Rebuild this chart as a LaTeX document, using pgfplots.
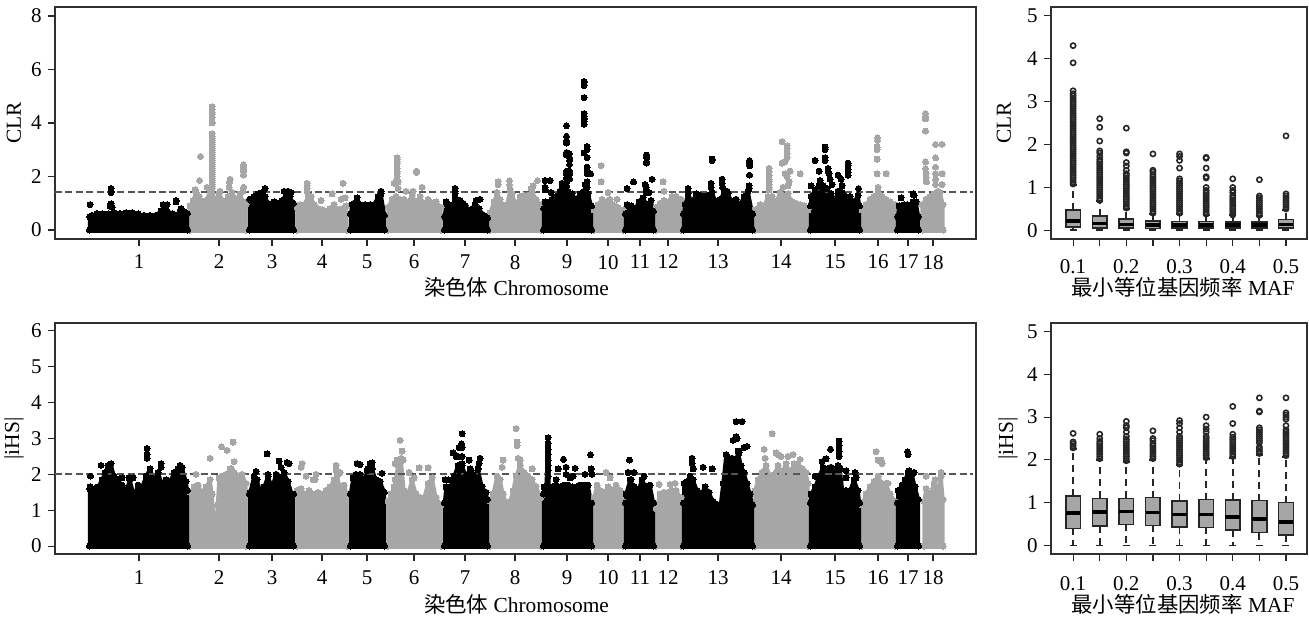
\documentclass[border=0pt]{standalone}
\usepackage{pgfplots}
\pgfplotsset{compat=1.18}
\usepgfplotslibrary{statistics}
\usepackage{fontspec}
\setmainfont{Liberation Serif}
\newfontfamily\cjk{Noto Sans CJK SC}
\definecolor{gr}{HTML}{A6A6A6}
\definecolor{frm}{HTML}{303030}
\definecolor{dashc}{HTML}{555555}
\newcommand{\G}[3]{\addplot[draw=gr,fill=gr,line width=1.7pt,line join=round,mark=*,mark size=1.5pt,mark options={fill=gr,draw=gr,line width=0pt,solid}] coordinates {#3};\addplot[draw=gr,line width=2.8pt,line cap=round] coordinates {(#1,0)(#2,0)};}
\newcommand{\K}[3]{\addplot[draw=black,fill=black,line width=1.7pt,line join=round,mark=*,mark size=1.5pt,mark options={fill=black,draw=black,line width=0pt,solid}] coordinates {#3};\addplot[draw=black,line width=2.8pt,line cap=round] coordinates {(#1,0)(#2,0)};}
\newcommand{\GO}[1]{\addplot[only marks,mark=*,mark size=1.5pt,mark options={fill=gr,draw=gr,line width=0pt}] coordinates {#1};}
\newcommand{\KO}[1]{\addplot[only marks,mark=*,mark size=1.5pt,mark options={fill=black,draw=black,line width=0pt}] coordinates {#1};}
\newcommand{\BX}[6]{\addplot[boxplot prepared={draw position=#1,lower whisker=#2,lower quartile=#3,median=#4,upper quartile=#5,upper whisker=#6}] coordinates {};}
\newcommand{\OUT}[1]{\addplot[only marks,mark=o,mark size=1.3pt,mark options={draw=black!85,line width=0.8pt}] coordinates {#1};}
\pgfplotsset{
 base/.style={
  scale only axis,anchor=south west,
  axis line style={draw=frm,line width=0.8pt},
  tick pos=left,tick align=outside,major tick length=3.5pt,
  every tick/.style={draw=black!85,line width=0.6pt},
  tick label style={font=\fontsize{10.5}{12}\selectfont},
  label style={font=\fontsize{10.7}{12}\selectfont},
  /pgf/number format/assume math mode=true,
  clip=false,
  y tick label style={xshift=0.3pt},
 },
 man/.style={base,width=460.5pt,height=116pt,xmin=55,xmax=976,
  xtick={139,219,272,322,367,414,465,515,567,608,640,668,718,781,835,878,908,933},
  xticklabels={1,2,3,4,5,6,7,8,9,10,11,12,13,14,15,16,17,18},
  x tick label style={yshift=-1pt},
  xlabel={{\cjk 染色体} Chromosome},
  xlabel style={at={(axis description cs:0.5,0)},anchor=center,yshift=-24pt,xshift=0.5pt},
  ylabel style={at={(axis description cs:0,0.5)},anchor=center},
 },
 bx/.style={base,width=128pt,height=116pt,xmin=0.17,xmax=9.79,ymin=-0.2,ymax=5.2,
  xtick={1,2,3,4,5,6,7,8,9},xticklabels={0.1,,0.2,,0.3,,0.4,,0.5},
  ytick={0,1,2,3,4,5},
  x tick label style={yshift=-3pt},
  xlabel={{\cjk 最小等位基因频率} MAF},
  xlabel style={at={(axis description cs:0.5,0)},anchor=center,yshift=-24pt,xshift=2pt},
  ylabel style={at={(axis description cs:0,0.5)},anchor=center},
  boxplot/draw direction=y,
  boxplot/box extend=0.55,
  boxplot/whisker extend=0.27,
  boxplot/every box/.style={fill=gr,draw=black!85,line width=0.8pt},
  boxplot/every median/.style={draw=black,line width=1.8pt},
  boxplot/every whisker/.style={draw=black!85,line width=0.9pt,dash pattern=on 3.5pt off 2.5pt},
 },
}
\begin{document}
\begin{tikzpicture}
\useasboundingbox (0,0) rectangle (654.5pt,310pt);
% ---------- CLR Manhattan ----------
\begin{axis}[man,at={(27.5pt,190.5pt)},ymin=-0.336,ymax=8.336,ytick={0,2,4,6,8},ylabel={CLR},ylabel style={yshift=20.5pt}]
\G{190}{246}{(190,0)(190,.9)(193,1.1)(196,1.4)(199,1.25)(202,1.05)(206,1.1)(210,1.45)(212,1.35)(216,1.15)(219,1.35)(224,1.05)(228,1.25)(232,1.4)(236,1.15)(240,1.35)(243,1.05)(246,.95)(246,0)(190,0)}
\G{297}{347}{(297,0)(297,.85)(300,.95)(304,.95)(308,1.25)(311,1.25)(314,.95)(318,.8)(322,.75)(326,.7)(330,.8)(334,.95)(338,.75)(342,.8)(346,.9)(347,0)(297,0)}
\G{388}{441}{(388,0)(388,.85)(392,1.15)(396,1.25)(400,1.15)(404,1.15)(408,1.05)(412,1.3)(416,1.05)(420,1.25)(424,1)(428,1.15)(432,1)(436,1.05)(441,.85)(441,0)(388,0)}
\G{490}{541}{(490,0)(490,.65)(494,1.05)(497,1.4)(500,1.15)(504,.9)(507,.95)(510,1.5)(512,1.35)(516,.95)(520,1.25)(524,1.3)(528,1.3)(532,1.45)(536,1.15)(541,.95)(541,0)(490,0)}
\G{594}{623}{(594,0)(594,.75)(598,.95)(602,1.15)(606,1.05)(610,1.15)(614,.9)(618,.85)(623,.75)(623,0)(594,0)}
\G{656}{681}{(656,0)(656,.85)(660,1)(664,1.1)(668,1.05)(672,1.25)(676,1.25)(681,1.15)(681,0)(656,0)}
\G{755}{808}{(755,0)(755,.75)(760,.95)(764,.9)(768,1.25)(772,1.25)(776,1.05)(780,1.4)(784,1.25)(788,1.35)(792,1.05)(796,1)(800,.95)(804,.9)(808,.75)(808,0)(755,0)}
\G{862}{895}{(862,0)(862,.75)(866,.95)(870,1.15)(874,1.25)(878,1.4)(882,1.25)(886,1.15)(890,1.05)(895,.95)(895,0)(862,0)}
\G{922}{943}{(922,0)(922,.95)(926,1.15)(930,1.25)(934,1.35)(938,1.45)(940,1.4)(943,.95)(943,0)(922,0)}
\GO{(212,1.55)(212,1.62)(212,1.7)(212,1.78)(212,1.85)(212,1.92)(212,2)(212,2.08)(212,2.15)(212,2.22)(212,2.3)(212,2.38)(212,2.45)(212,2.52)(212,2.6)(212,2.68)(212,2.75)(212,2.82)(212,2.9)(212,2.98)(212,3.05)(212,3.12)(212,3.2)(212,3.28)(212,3.35)(212,3.42)(212,3.5)(212,3.6)(212,4)(212,4.2)(212,4.3)(212,4.4)(212,4.5)(212,4.6)
(200.5,2.75)(199.5,1.85)(195,1.5)(207,1.6)(230,1.9)(229.5,1.8)(229,1.6)(243.5,2.45)(243.5,2.38)(243.5,2.3)(243.5,2.2)(243.5,2.05)(243.5,1.6)(243,1.45)(220,1.45)
(307,1.75)(307,1.65)(307,1.55)(307,1.45)(321,1.1)(332,1.35)(343,1.75)(341,1.15)(345,1.2)(310,1.2)
(397,2.7)(397,2.62)(397,2.55)(397,2.48)(397,2.3)(397,2.2)(397,2.1)(397,2)(396,1.8)(394,1.75)(398,1.8)(398,1.55)(406,1.45)(413,1.45)(416.5,2.2)(416.5,2.15)(422,1.6)
(498,1.8)(498,1.7)(509.5,1.85)(509.5,1.7)(531,1.55)(537.5,1.85)(533,1.65)
(601,2.4)(601,1.8)(608,1.4)(617,1.15)(663,1.8)(664,1.45)
(769,2.3)(769,2.2)(769,2.05)(769,1.9)(769,1.8)(769,1.7)(769,1.6)(769,1.5)(782,3.3)(787,3.15)(787,3.05)(787,2.85)(787,2.7)(782,2.5)(785,2.55)(785,2.1)(790,2.2)(787,2)(789,1.8)(788,1.65)(783,1.6)(800,2.1)
(877.5,3.45)(877.5,3.35)(877,3.1)(877,3)(877,2.65)(877,2.1)(878,1.6)(886,2.1)
(925.5,4.35)(925.5,4.25)(925.5,4.15)(925.5,3.7)(925.5,2.55)(925.5,2.3)(926,2.1)(926,1.95)(926.5,1.8)(935.5,3.2)(935.5,2.7)(935.5,2.35)(935.5,2.1)(935.5,1.9)(935.5,1.7)(942,3.2)(942,2.1)(942,1.7)}
\K{89.5}{187.5}{(89.5,0)(89.5,.5)(92,.55)(97,.62)(102,.6)(108,.6)(114,.65)(120,.62)(126,.65)(132,.65)(138,.6)(144,.55)(150,.55)(156,.55)(161,.72)(166,.78)(172,.6)(176,.55)(180,.68)(184,.68)(187.5,.62)(187.5,0)(89.5,0)}
\K{249.5}{293.5}{(249.5,0)(249.5,1.15)(254,1.25)(258,1.35)(262,1.4)(265,1.25)(268,1)(274,1.05)(278,1)(282,1.1)(286,1.35)(290,1.25)(293.5,1)(293.5,0)(249.5,0)}
\K{350.5}{384.5}{(350.5,0)(350.5,.6)(352,.95)(354,1)(357,1.2)(360,.95)(365,.95)(370,.95)(374,.95)(378,1.25)(381,1.35)(384.5,.55)(384.5,0)(350.5,0)}
\K{444.5}{487.5}{(444.5,0)(444.5,.5)(446,1.05)(449,.95)(452,.9)(455,1.2)(458,.85)(461,.95)(465,.9)(470,.75)(475,.95)(479,.8)(484,.55)(487.5,.45)(487.5,0)(444.5,0)}
\K{543.5}{591.5}{(543.5,0)(543.5,.8)(545,1.05)(549,1.05)(552,1.15)(556,1.25)(560,1.45)(564,1.4)(568,1.45)(572,1.35)(576,1.15)(580,1.35)(584,1.45)(588,1.35)(591.5,.9)(591.5,0)(543.5,0)}
\K{625.5}{653.5}{(625.5,0)(625.5,.6)(627,.95)(631,.9)(635,.8)(639,1.05)(643,1.2)(647,.95)(651,1.1)(653.5,.7)(653.5,0)(625.5,0)}
\K{683.5}{752.5}{(683.5,0)(683.5,.6)(685,.95)(688,1.35)(692,1.05)(696,1.35)(700,1.3)(704,1.25)(708,1.3)(712,1.4)(716,1.05)(720,1.15)(724,1.4)(728,1.35)(732,1.05)(736,1.15)(740,.95)(744,1.25)(748,1.45)(752.5,.6)(752.5,0)(683.5,0)}
\K{810.5}{859.5}{(810.5,0)(810.5,.9)(811,1.25)(815,1.5)(819,1.35)(823,1.65)(827,1.55)(831,1.35)(834,1.05)(838,1.45)(842,1.4)(846,1.25)(850,1.25)(854,1.05)(858,1.3)(859.5,.9)(859.5,0)(810.5,0)}
\K{897.5}{918.5}{(897.5,0)(897.5,.5)(899,.9)(901,.75)(904,.95)(907,.95)(910,.9)(913,1.05)(916,1.05)(918.5,.5)(918.5,0)(897.5,0)}
\KO{(90,.95)(111,1.55)(111,1.45)(111,1.4)(111,.98)(110,.9)(112,.85)(176,1.1)(176,1.05)(181,.8)(163,.95)(167,.95)
(265,1.55)(284,1.45)(288,1.45)(291,1.4)(381,1.45)(455,1.55)(455,1.45)(455,1.35)(476,1.1)(480,1.15)(460,1.1)(463,1)
(545,1.5)(545,1.6)(545,1.85)(550,1.85)(551,1.4)(562,1.75)(562,1.6)(566.5,3.9)(566.5,3.5)(566.5,3.35)(566.5,3.25)(566.5,2.9)(566.5,2.8)(566.5,2.2)(566.5,2.1)(566.5,1.95)(566.5,1.8)(566.5,1.65)(569.5,2.85)(569.5,2.7)(569.5,2.6)(569.5,2.45)(569.5,2.2)(569.5,2.1)(569.5,1.9)
(584,5.55)(584,5.5)(584,5.4)(584,4.95)(584,4.35)(584,4.25)(584,4.15)(584,4.05)(584,3.95)(587,3.12)(587,3)(584,2.88)(587,2.7)(587,2.35)(587,2.2)(587,2.1)(590.5,2.1)(587,1.8)(585,1.7)(587,1.6)
(627,1.55)(633.5,1.8)(645,1.7)(646,1.6)(649,1.4)(646.5,2.8)(646.5,2.7)(646.5,2.55)(646.5,2.5)(652,1.9)(646,1.4)
(712,2.65)(712,2.6)(711,1.75)(711,1.6)(722,1.9)(722,1.75)(722.5,1.6)(727,1.45)(749.5,2.6)(749.5,2.5)(749.5,2.4)(749.5,2.05)(749,1.65)(749,1.55)(688,1.55)
(815,2.6)(811,1.65)(819,1.65)(819,2.2)(820,1.85)(825,3.1)(825,3)(825,2.7)(825,2.6)(828,2.3)(828,2.2)(829,2.1)(830,1.9)(832,1.7)(838,2.05)(841,1.9)(848,2.5)(848,2.4)(848,2.25)(848,2.15)(848,2.05)(842,1.65)(858.5,1.55)
(901,1.2)(913,1.35)(914,1.3)}
\addplot[draw=dashc,line width=0.8pt,dash pattern=on 3.5pt off 1.7pt] coordinates {(55,1.42)(973,1.42)};
\end{axis}
% ---------- CLR box ----------
\begin{axis}[bx,at={(525.5pt,190.5pt)},ylabel={CLR},ylabel style={yshift=23.5pt}]
\BX{1}{0}{.08}{.22}{.48}{1.05}
\BX{2}{0}{.06}{.16}{.33}{.68}
\BX{3}{0}{.05}{.14}{.26}{.5}
\BX{4}{0}{.04}{.13}{.22}{.38}
\BX{5}{0}{.05}{.13}{.21}{.38}
\BX{6}{0}{.05}{.13}{.21}{.36}
\BX{7}{0}{.05}{.12}{.19}{.35}
\BX{8}{0}{.05}{.12}{.19}{.33}
\BX{9}{0}{.06}{.14}{.25}{.47}
\OUT{(1,1.08)(1,1.13)(1,1.18)(1,1.23)(1,1.28)(1,1.33)(1,1.38)(1,1.43)(1,1.48)(1,1.53)(1,1.58)(1,1.63)(1,1.68)(1,1.73)(1,1.78)(1,1.83)(1,1.88)(1,1.93)(1,1.98)(1,2.03)(1,2.08)(1,2.13)(1,2.18)(1,2.23)(1,2.28)(1,2.33)(1,2.38)(1,2.43)(1,2.48)(1,2.53)(1,2.58)(1,2.63)(1,2.68)(1,2.73)(1,2.78)(1,2.83)(1,2.88)(1,2.93)(1,2.98)(1,3.03)(1,3.08)(1,3.13)(1,3.18)(1,3.25)(1,3.9)(1,4.3)
(2,.7)(2,.75)(2,.8)(2,.85)(2,.9)(2,.95)(2,1)(2,1.05)(2,1.1)(2,1.15)(2,1.2)(2,1.25)(2,1.3)(2,1.35)(2,1.4)(2,1.45)(2,1.5)(2,1.55)(2,1.6)(2,1.65)(2,1.72)(2,1.8)(2,1.85)(2,2.08)(2,2.4)(2,2.6)
(3,.52)(3,.57)(3,.62)(3,.67)(3,.72)(3,.77)(3,.82)(3,.87)(3,.92)(3,.97)(3,1.02)(3,1.07)(3,1.12)(3,1.17)(3,1.22)(3,1.27)(3,1.32)(3,1.4)(3,1.5)(3,1.58)(3,1.8)(3,1.83)(3,2.38)
(4,.4)(4,.45)(4,.5)(4,.55)(4,.6)(4,.65)(4,.7)(4,.75)(4,.8)(4,.85)(4,.9)(4,.95)(4,1)(4,1.05)(4,1.1)(4,1.15)(4,1.2)(4,1.25)(4,1.3)(4,1.36)(4,1.4)(4,1.78)
(5,.4)(5,.45)(5,.5)(5,.55)(5,.6)(5,.65)(5,.7)(5,.75)(5,.8)(5,.85)(5,.9)(5,.95)(5,1)(5,1.05)(5,1.1)(5,1.15)(5,1.2)(5,1.45)(5,1.63)(5,1.72)(5,1.78)
(6,.38)(6,.43)(6,.48)(6,.53)(6,.58)(6,.63)(6,.68)(6,.73)(6,.78)(6,.83)(6,.88)(6,.93)(6,1)(6,1.22)(6,1.25)(6,1.45)(6,1.68)(6,1.7)
(7,.36)(7,.41)(7,.46)(7,.51)(7,.56)(7,.61)(7,.66)(7,.71)(7,.76)(7,.81)(7,.88)(7,.93)(7,1)(7,1.2)
(8,.35)(8,.4)(8,.45)(8,.5)(8,.55)(8,.6)(8,.65)(8,.7)(8,.75)(8,.8)(8,1.18)
(9,.5)(9,.55)(9,.6)(9,.65)(9,.7)(9,.75)(9,.8)(9,.85)(9,2.2)}
\end{axis}
% ---------- iHS Manhattan ----------
\begin{axis}[man,at={(27.5pt,33pt)},height=115.5pt,ymin=-0.22,ymax=6.22,ytick={0,1,2,3,4,5,6},ylabel={|iHS|},ylabel style={yshift=20.5pt},xlabel style={yshift=-1pt},x tick label style={yshift=-0.2pt}]
\G{190}{246}{(190,0)(190,1.5)(194,1.65)(198,1.7)(202,1.5)(206,1.65)(210,1.85)(212,1.45)(214,.7)(216,.6)(217.5,1.15)(219,1.9)(222,1.95)(226,2)(230,2.15)(234,2.05)(238,1.95)(242,2)(246,1.75)(246,0)(190,0)}
\G{297}{347}{(297,0)(297,1.55)(301,1.6)(305,1.45)(309,1.55)(313,1.45)(318,1.5)(322,1.45)(326,1.55)(330,1.65)(334,1.85)(337,1.95)(340,1.65)(344,1.7)(347,1.45)(347,0)(297,0)}
\G{388}{441}{(388,0)(388,1.25)(391,1.45)(394,1.65)(398,2.25)(401,2.45)(404,1.55)(408,1.45)(412,1.85)(416,1.45)(420,1.35)(424,1.35)(428,1.75)(432,1.9)(436,1.35)(441,1.15)(441,0)(388,0)}
\G{490}{541}{(490,0)(490,1.25)(493,1.45)(497,1.95)(500,1.85)(503,1.45)(507,1.15)(510,1.25)(513,1.55)(516,1.95)(520,2.25)(524,2.05)(528,1.95)(532,1.85)(536,1.65)(541,1.35)(541,0)(490,0)}
\G{594}{623}{(594,0)(594,1.35)(597,1.7)(600,1.55)(604,1.5)(608,1.65)(612,1.55)(616,1.7)(620,1.55)(623,1.25)(623,0)(594,0)}
\G{656}{681}{(656,0)(656,1.05)(660,1.45)(664,1.5)(668,1.5)(672,1.55)(676,1.55)(681,1.35)(681,0)(656,0)}
\G{755}{808}{(755,0)(755,1.55)(758,1.85)(762,2.05)(766,2.25)(770,1.95)(774,2)(778,2.25)(782,2.05)(786,2.3)(790,2.05)(794,2.3)(798,2.25)(802,2.15)(806,2.05)(808,1.75)(808,0)(755,0)}
\G{862}{895}{(862,0)(862,1.15)(866,1.45)(870,1.65)(874,1.8)(878,1.95)(882,1.75)(886,1.75)(890,1.45)(895,1.25)(895,0)(862,0)}
\G{924}{943}{(924,0)(924,1.25)(926,1.6)(930,1.45)(934,1.75)(938,1.55)(941,1.95)(943,1.3)(943,0)(924,0)}
\GO{(196,2)(210,2.45)(221.5,2.77)(227,2.67)(233,2.9)(234,2.35)(231,2.15)
(302,2.3)(301,2.2)(306,1.95)(316,2)(315,1.85)(313,1.85)(336,2.25)(336,2.1)(340,2.05)
(400,2.95)(402,2.65)(397,2.4)(395,2.3)(403,2.4)(409,2.05)(419,2.18)(428,2.18)(414,1.9)(395,1.85)
(516,3.27)(517,2.9)(517,2.8)(518,2.45)(520,2.4)(524,2.05)(532,2.15)(503,2.4)(502,2.2)
(606,2.05)(610,1.9)(659,1.72)(670,1.72)(675,1.75)
(764,2.7)(772,3.13)(765,2.45)(776,2.6)(778,2.55)(781,2.5)(788,2.5)(793,2.55)(800,2.42)
(876,2.63)(878,2.4)(881,2.4)(882,2.3)(888,1.75)(926,1.95)(941,2.05)(935,1.85)}
\K{89.5}{187.5}{(89.5,0)(89.5,1.6)(90,1.65)(94,1.6)(98,1.65)(102,1.85)(105,2.05)(108,2.25)(111,2.3)(114,1.95)(118,1.85)(122,1.7)(126,1.55)(130,1.85)(134,1.4)(138,1.7)(142,1.65)(146,1.95)(150,2.15)(154,1.85)(158,2.05)(162,1.75)(166,1.85)(170,1.8)(174,2.05)(178,2.15)(182,2.2)(186,1.8)(187.5,1.55)(187.5,0)(89.5,0)}
\K{249.5}{293.5}{(249.5,0)(249.5,1.45)(250,1.5)(254,1.95)(257,1.85)(260,1.55)(264,1.65)(268,1.95)(272,1.65)(276,2)(280,1.9)(284,2.05)(288,1.8)(292,1.45)(293.5,1.45)(293.5,0)(249.5,0)}
\K{350.5}{384.5}{(350.5,0)(350.5,1.45)(353,1.9)(356,1.95)(360,2)(364,1.85)(368,2.15)(372,2.15)(376,1.85)(380,1.8)(384.5,1.5)(384.5,0)(350.5,0)}
\K{444.5}{487.5}{(444.5,0)(444.5,1.2)(446,1.65)(450,1.65)(454,1.95)(458,2.25)(462,2.25)(466,1.95)(470,2.15)(474,1.95)(478,2.15)(482,1.65)(486,1.5)(487.5,1.3)(487.5,0)(444.5,0)}
\K{543.5}{591.5}{(543.5,0)(543.5,1.45)(544,1.65)(546,1.65)(548,2.85)(549,1.65)(552,1.65)(556,1.7)(560,1.65)(564,1.7)(568,1.7)(572,1.65)(576,1.65)(580,1.7)(584,1.7)(588,1.7)(591.5,1.2)(591.5,0)(543.5,0)}
\K{625.5}{653.5}{(625.5,0)(625.5,1.2)(626,1.45)(630,1.85)(634,1.65)(638,1.55)(642,1.85)(646,1.65)(650,1.7)(653.5,1.2)(653.5,0)(625.5,0)}
\K{683.5}{752.5}{(683.5,0)(683.5,1.2)(684,1.75)(687,1.8)(690,1.95)(693,1.85)(697,1.55)(701,1.45)(705,1.65)(709,1.5)(713,1.25)(717,1.15)(720,1.05)(723,1.75)(726,2.55)(729,2.45)(732,2.45)(735,2.25)(738,2.65)(741,2.25)(744,2.05)(747,1.75)(750,1.45)(752.5,1.15)(752.5,0)(683.5,0)}
\K{810.5}{859.5}{(810.5,0)(810.5,1.2)(811,1.45)(815,1.65)(819,1.95)(823,2.2)(827,2.15)(831,2.2)(835,2.15)(838,2.25)(840,2.15)(843,1.45)(846,1.55)(850,1.55)(854,1.85)(858,1.55)(859.5,1.2)(859.5,0)(810.5,0)}
\K{897.5}{918.5}{(897.5,0)(897.5,1.2)(898,1.55)(902,1.7)(905,1.85)(908,2.05)(912,2)(915,1.65)(918.5,1.3)(918.5,0)(897.5,0)}
\KO{(90.5,1.95)(101,2.25)(147,2.72)(147,2.55)(147,2.45)(161,2.3)(161,2.2)(150,2.15)(180,2.25)(122,1.9)(129,1.9)(133,1.9)
(256,2.08)(267,2.57)(279,2.37)(281,2.2)(287,2.33)(289,2.3)(284,2.05)(268,2)
(357,2.3)(360,2.27)(370,2.3)(372,2.32)(367,2.1)(356,2)(382,2.03)
(445,1.85)(448,1.85)(453,2.6)(456,2.5)(458,2.5)(462,3.13)(461.5,2.85)(462,2.75)(459,2.75)(462,2.5)(462,2.3)(469,2.4)(480,2.45)(479,2.3)(471,2.1)
(548,3.02)(548,2.85)(548,2.7)(548,2.55)(548,2.4)(548,2.25)(548,2.1)(548,1.95)(558,2.15)(563.5,2.42)(566,2.2)(575,2.17)(573,1.95)(590.5,2.55)(591,2.15)(592,2)(585,2)(566,2)(556,1.85)(570,1.9)
(629.5,2.4)(628,2.05)(634,2.05)(644,1.95)(631,1.85)
(692,2.45)(692,2.3)(693,2.15)(703,2.2)(712,2.15)(736,3.47)(742,3.47)(736,3.05)(737,3)(733,2.95)(744,2.75)(747,2.78)(739,2.6)
(815,1.95)(822,2.35)(826,2.43)(830.5,2.7)(839,2.93)(839,2.8)(839,2.65)(839,2.5)(846,2.1)(846,1.9)(855,2.05)(856,1.9)
(907.5,2.63)(908,2.55)(909,2.1)(914,2.05)}
\addplot[draw=dashc,line width=0.8pt,dash pattern=on 3.5pt off 1.7pt] coordinates {(55,2.01)(973,2.01)};
\end{axis}
% ---------- iHS box ----------
\begin{axis}[bx,at={(525.5pt,33pt)},height=115.5pt,ylabel={|iHS|},ylabel style={yshift=21.5pt},xlabel style={yshift=-1pt},x tick label style={yshift=-1pt}]
\BX{1}{0}{.4}{.76}{1.16}{2.25}
\BX{2}{0}{.46}{.78}{1.1}{2}
\BX{3}{0}{.49}{.79}{1.1}{1.95}
\BX{4}{0}{.47}{.77}{1.12}{2}
\BX{5}{0}{.43}{.72}{1.04}{1.88}
\BX{6}{0}{.42}{.72}{1.07}{2.03}
\BX{7}{0}{.36}{.67}{1.06}{2.05}
\BX{8}{0}{.3}{.62}{1.05}{2.12}
\BX{9}{0}{.24}{.55}{1}{2.06}
\OUT{(1,2.28)(1,2.33)(1,2.38)(1,2.42)(1,2.62)
(2,2.03)(2,2.08)(2,2.13)(2,2.18)(2,2.23)(2,2.28)(2,2.33)(2,2.38)(2,2.43)(2,2.5)(2,2.6)
(3,1.98)(3,2.03)(3,2.08)(3,2.13)(3,2.18)(3,2.23)(3,2.28)(3,2.33)(3,2.38)(3,2.43)(3,2.48)(3,2.55)(3,2.65)(3,2.75)(3,2.8)(3,2.9)
(4,2.03)(4,2.08)(4,2.13)(4,2.18)(4,2.23)(4,2.28)(4,2.33)(4,2.38)(4,2.45)(4,2.5)(4,2.68)
(5,1.9)(5,1.95)(5,2)(5,2.05)(5,2.1)(5,2.15)(5,2.2)(5,2.25)(5,2.3)(5,2.35)(5,2.4)(5,2.45)(5,2.5)(5,2.55)(5,2.65)(5,2.75)(5,2.85)(5,2.92)
(6,2.05)(6,2.1)(6,2.15)(6,2.2)(6,2.25)(6,2.3)(6,2.35)(6,2.4)(6,2.45)(6,2.5)(6,2.55)(6,2.65)(6,2.72)(6,2.8)(6,3)
(7,2.08)(7,2.13)(7,2.18)(7,2.23)(7,2.28)(7,2.33)(7,2.38)(7,2.43)(7,2.48)(7,2.53)(7,2.6)(7,2.85)(7,3.25)
(8,2.15)(8,2.2)(8,2.25)(8,2.3)(8,2.4)(8,2.45)(8,2.5)(8,2.55)(8,2.6)(8,2.65)(8,2.7)(8,2.75)(8,3.12)(8,3.14)(8,3.45)
(9,2.1)(9,2.15)(9,2.2)(9,2.25)(9,2.3)(9,2.35)(9,2.4)(9,2.45)(9,2.5)(9,2.55)(9,2.6)(9,2.65)(9,2.7)(9,2.8)(9,2.95)(9,3)(9,3.05)(9,3.1)(9,3.45)}
\end{axis}
\end{tikzpicture}
\end{document}
